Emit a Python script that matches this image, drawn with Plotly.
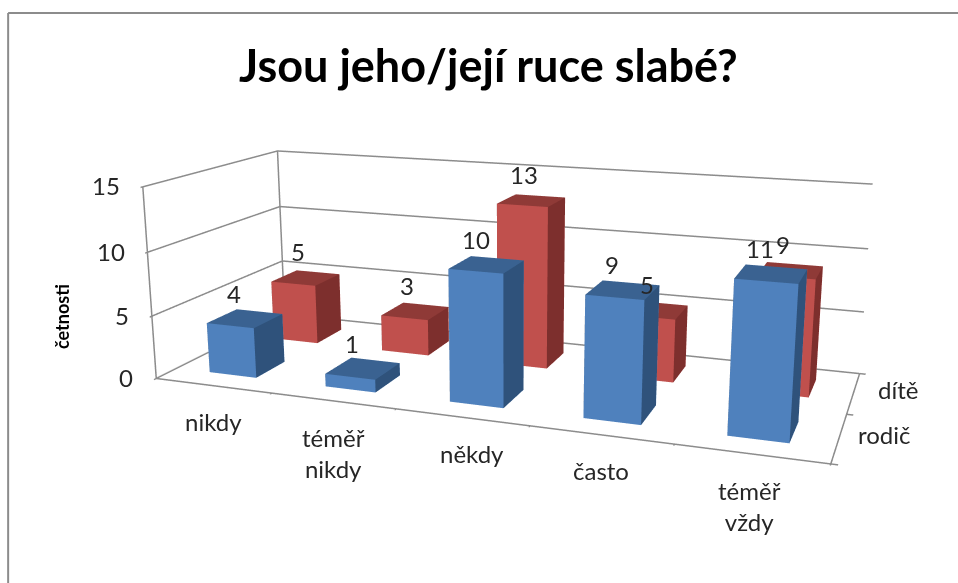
import plotly.graph_objects as go

categories = ["nikdy", "téměř<br>nikdy", "někdy", "často", "téměř<br>vždy"]
series_names = ["rodič", "dítě"]
rodic = [4, 1, 10, 9, 11]
dite = [5, 3, 13, 5, 9]
z_ticks = [0, 5, 10, 15]
title = "Jsou jeho/její ruce slabé?"
FONT = "Lato, 'Open Sans', sans-serif"
TXT = "#262626"
GRID = "#8c8c8c"
BAR_W = 0.205
BAR_D = 0.22
DOM = [0.065, 1.0]
# A taller scene lengthens the focal length of Plotly's fixed field of view, which
# gives the flat perspective of the reference; the page shows a 583px window of it.
H = 1065
OFF = 250
cat_dx = [0, 0, 10, 0, -2]


def py(y):
    return 1 - (y + OFF) / H


def box_mesh(values, row, front, side, top):
    xs, ys, zs, i, j, k, fc = [], [], [], [], [], [], []
    for c, v in enumerate(values):
        x0, x1 = c + 0.5 - BAR_W, c + 0.5 + BAR_W
        y0, y1 = row + 0.5 - BAR_D, row + 0.5 + BAR_D
        b = len(xs)
        xs += [x0, x1, x1, x0, x0, x1, x1, x0]
        ys += [y0, y0, y1, y1, y0, y0, y1, y1]
        zs += [0, 0, 0, 0, v, v, v, v]
        quads = [((0, 1, 5), (0, 5, 4), front), ((1, 2, 6), (1, 6, 5), side),
                 ((4, 5, 6), (4, 6, 7), top), ((3, 2, 6), (3, 6, 7), front),
                 ((0, 3, 7), (0, 7, 4), side), ((0, 1, 2), (0, 2, 3), front)]
        for t1, t2, col in quads:
            for t in (t1, t2):
                i.append(b + t[0]); j.append(b + t[1]); k.append(b + t[2]); fc.append(col)
    return go.Mesh3d(x=xs, y=ys, z=zs, i=i, j=j, k=k, facecolor=fc, flatshading=True,
                     lighting=dict(ambient=1, diffuse=0, specular=0, fresnel=0, roughness=1),
                     hoverinfo="skip", showscale=False)


N = len(categories)
M = len(series_names)
fig = go.Figure()

lx, ly, lz = [], [], []
for t in z_ticks:
    lx += [0, 0, N, None]; ly += [0, M, M, None]; lz += [t, t, t, None]
lx += [0, 0, None, 0, 0, None, 0, N, N]
ly += [0, 0, None, M, M, None, 0, 0, M]
lz += [0, z_ticks[-1], None, 0, z_ticks[-1], None, 0, 0, 0]
fig.add_trace(go.Scatter3d(x=lx, y=ly, z=lz, mode="lines", line=dict(color=GRID, width=3), hoverinfo="skip"))
fig.add_trace(box_mesh(dite, 1, "#C0504D", "#7D2F2D", "#8F3A37"))
fig.add_trace(box_mesh(rodic, 0, "#4F81BD", "#2F527B", "#3A6291"))

f24 = dict(size=24, color=TXT, family=FONT)
ann = []
for c, v in enumerate(rodic):
    ann.append(dict(x=c + 0.5, y=0.5, z=v, text=str(v), xshift=-11, yshift=25, showarrow=False, font=f24))
for c, v in enumerate(dite):
    ann.append(dict(x=c + 0.5, y=1.5, z=v, text=str(v), xshift=-8, yshift=26, showarrow=False, font=f24))
for c, name in enumerate(categories):
    ann.append(dict(x=c + 0.5, y=0, z=0, text=name, xshift=cat_dx[c], yshift=-52 if "<br>" in name else -36,
                    showarrow=False, font=f24))
for r, name in enumerate(series_names):
    ann.append(dict(x=N, y=r + 0.5, z=0, text=name, xshift=45, yshift=3, showarrow=False, font=f24))
for t in z_ticks:
    ann.append(dict(x=0, y=0, z=t, text=str(t), xshift=-21, yshift=1, xanchor="right", showarrow=False, font=f24))


def axis(rng, ticks, tl):
    return dict(range=rng, tickvals=ticks, showticklabels=False, ticks="outside", ticklen=tl,
                tickcolor=GRID, tickwidth=3, showgrid=False, zeroline=False, showline=True,
                linecolor=GRID, linewidth=2, showbackground=False, showspikes=False, title="")


fig.update_layout(
    width=958, height=H, margin=dict(l=0, r=0, t=0, b=0), paper_bgcolor="white",
    font=dict(family=FONT, color=TXT), showlegend=False,
    scene=dict(
        domain=dict(x=DOM, y=[0, 1]),
        xaxis=axis([0, N], list(range(N + 1)), 5),
        yaxis=axis([0, M], list(range(M + 1)), 3),
        zaxis=axis([z_ticks[0], z_ticks[-1]], z_ticks, 5),
        aspectmode="manual", aspectratio=dict(x=2.0, y=0.777, z=0.588),
        camera=dict(eye=dict(x=1.275, y=-3.510, z=0.934), center=dict(x=0, y=0, z=0), up=dict(x=0, y=0, z=1),
                    projection=dict(type="perspective")),
        annotations=ann,
    ),
    annotations=[
        dict(text="<b>" + title + "</b>", x=0.51, y=py(65), xref="paper", yref="paper", showarrow=False,
             xanchor="center", yanchor="middle", font=dict(size=45, color="black", family=FONT)),
        dict(text="<b>četnosti</b>", x=0.0647, y=py(316), xref="paper", yref="paper", showarrow=False, textangle=-90,
             xanchor="center", yanchor="middle", font=dict(size=18, color="black", family=FONT)),
    ],
    shapes=[
        dict(type="line", xref="paper", yref="paper", x0=0.0085, x1=0.0085, y0=py(600), y1=py(13),
             line=dict(color="#8c8c8c", width=2)),
        dict(type="line", xref="paper", yref="paper", x0=0.0085, x1=1, y0=py(13), y1=py(13),
             line=dict(color="#8c8c8c", width=2)),
    ],
)
fig.write_html("out.html", config=dict(displayModeBar=False),
               post_script=f"document.documentElement.style.overflow='hidden';document.body.style.overflow='hidden';document.body.style.margin='0';document.getElementById('{{plot_id}}').style.marginTop='-{OFF}px';")
